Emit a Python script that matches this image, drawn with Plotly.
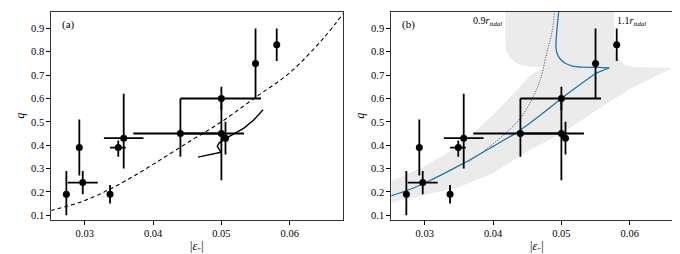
import plotly.graph_objects as go

# ---- data ----
eps = [0.0273, 0.0292, 0.0297, 0.0337, 0.0349, 0.0357, 0.0440, 0.0500, 0.0500, 0.0506, 0.0550, 0.0581]
q = [0.19, 0.39, 0.24, 0.19, 0.39, 0.43, 0.45, 0.45, 0.60, 0.43, 0.75, 0.83]
q_lo = [0.10, 0.27, 0.19, 0.15, 0.35, 0.30, 0.35, 0.25, 0.55, 0.36, 0.60, 0.76]
q_hi = [0.29, 0.51, 0.29, 0.23, 0.42, 0.62, 0.60, 0.60, 0.65, 0.50, 0.90, 0.90]
eps_lo = [0.0273, 0.0292, 0.0275, 0.0337, 0.0337, 0.0328, 0.0371, 0.0440, 0.0440, 0.0506, 0.0550, 0.0581]
eps_hi = [0.0273, 0.0292, 0.0319, 0.0337, 0.0360, 0.0386, 0.0500, 0.0533, 0.0558, 0.0506, 0.0550, 0.0581]

# dashed fit (panel a)
fit_x = [0.025, 0.030, 0.035, 0.040, 0.045, 0.050, 0.055, 0.060, 0.065, 0.068]
fit_q = [0.12, 0.163, 0.232, 0.318, 0.41, 0.50, 0.605, 0.71, 0.86, 0.97]

# solid track (panel a)
trk_x = [0.04657, 0.04994, 0.0494, 0.04966, 0.0506, 0.0533, 0.05477, 0.0561]
trk_q = [0.349, 0.370, 0.395, 0.409, 0.428, 0.473, 0.509, 0.552]

# blue model curve (panel b): lower branch and returning upper branch
blue_lo_x = [0.025, 0.0273, 0.030, 0.0357, 0.040, 0.0435, 0.047, 0.050, 0.053, 0.0551, 0.0562, 0.0570]
blue_lo_q = [0.183, 0.205, 0.238, 0.323, 0.395, 0.455, 0.53, 0.60, 0.665, 0.708, 0.722, 0.731]
blue_up_x = [0.0570, 0.0555, 0.0530, 0.0515, 0.0505, 0.0498, 0.0494, 0.0492, 0.0493, 0.0496]
blue_up_q = [0.731, 0.733, 0.734, 0.740, 0.752, 0.770, 0.790, 0.820, 0.880, 0.970]

# dotted curve (panel b)
dot_x = [0.0365, 0.0379, 0.041, 0.044, 0.046, 0.047, 0.0479, 0.0486, 0.0490]
dot_q = [0.330, 0.359, 0.43, 0.516, 0.615, 0.69, 0.80, 0.88, 0.97]

# grey envelope (panel b)
band_x = [0.025, 0.030, 0.034, 0.037, 0.040, 0.043, 0.0455, 0.0475,
          0.0448, 0.0435, 0.0426, 0.0420, 0.0418, 0.0418,
          0.0577, 0.0577, 0.0579, 0.0584, 0.0592, 0.0605, 0.0662,
          0.0600, 0.0555, 0.050, 0.045, 0.040, 0.035, 0.030, 0.025]
band_q = [0.245, 0.31, 0.38, 0.45, 0.53, 0.62, 0.70, 0.733,
          0.738, 0.750, 0.770, 0.800, 0.830, 0.98,
          0.98, 0.830, 0.800, 0.770, 0.745, 0.735, 0.730,
          0.64, 0.556, 0.45, 0.374, 0.28, 0.22, 0.185, 0.153]

FONT = "Liberation Serif"
fig = go.Figure()

def points(xa, ya):
    return go.Scatter(
        x=eps, y=q, mode="markers", xaxis=xa, yaxis=ya,
        marker=dict(color="black", size=7),
        error_y=dict(type="data", symmetric=False,
                     array=[h - v for h, v in zip(q_hi, q)],
                     arrayminus=[v - l for l, v in zip(q_lo, q)],
                     color="black", thickness=1.8, width=0),
        error_x=dict(type="data", symmetric=False,
                     array=[h - v for h, v in zip(eps_hi, eps)],
                     arrayminus=[v - l for l, v in zip(eps_lo, eps)],
                     color="black", thickness=1.8, width=0),
        showlegend=False, hoverinfo="skip")

# panel a
fig.add_trace(go.Scatter(x=fit_x, y=fit_q, mode="lines", line=dict(color="black", width=1.1, dash="4px,3px", shape="spline"),
                         xaxis="x", yaxis="y", showlegend=False))
fig.add_trace(go.Scatter(x=trk_x, y=trk_q, mode="lines", line=dict(color="black", width=1.4),
                         xaxis="x", yaxis="y", showlegend=False))
fig.add_trace(points("x", "y"))

# panel b
fig.add_trace(go.Scatter(x=band_x, y=band_q, mode="lines", fill="toself", fillcolor="#ebebeb",
                         line=dict(width=0, color="#ebebeb"),
                         xaxis="x2", yaxis="y2", showlegend=False, hoverinfo="skip"))
fig.add_trace(go.Scatter(x=dot_x, y=dot_q, mode="lines", line=dict(color="#444444", width=1, dash="1px,1.5px", shape="spline"),
                         xaxis="x2", yaxis="y2", showlegend=False))
fig.add_trace(go.Scatter(x=blue_lo_x, y=blue_lo_q, mode="lines", line=dict(color="#1f77b4", width=1.3, shape="spline", smoothing=0.6),
                         xaxis="x2", yaxis="y2", showlegend=False))
fig.add_trace(go.Scatter(x=blue_up_x, y=blue_up_q, mode="lines", line=dict(color="#1f77b4", width=1.3, shape="spline", smoothing=0.5),
                         xaxis="x2", yaxis="y2", showlegend=False))
fig.add_trace(points("x2", "y2"))

ax = dict(range=[0.0251, 0.0678], tickvals=[0.03, 0.04, 0.05, 0.06], ticktext=["0.03", "0.04", "0.05", "0.06"],
          ticks="outside", ticklen=4, tickcolor="black", showline=True, linecolor="#333333", linewidth=1,
          mirror=True, showgrid=False, zeroline=False,
          tickfont=dict(family=FONT, size=10.5, color="black"))
ay = dict(range=[0.081, 0.97], tickvals=[0.1, 0.2, 0.3, 0.4, 0.5, 0.6, 0.7, 0.8, 0.9],
          ticktext=["0.1", "0.2", "0.3", "0.4", "0.5", "0.6", "0.7", "0.8", "0.9"],
          ticks="outside", ticklen=4, tickcolor="black", showline=True, linecolor="#333333", linewidth=1,
          mirror=True, showgrid=False, zeroline=False,
          tickfont=dict(family=FONT, size=10.5, color="black"))

tfont = dict(family=FONT, size=12, color="black")
sfont = dict(family=FONT, size=10, color="black")
xtitle = "|<i>ε</i>₋|"
fig.update_layout(
    width=680, height=254, margin=dict(l=0, r=0, t=0, b=0),
    plot_bgcolor="white", paper_bgcolor="white",
    xaxis=dict(ax, domain=[0.0637, 0.4926], anchor="y"),
    yaxis=dict(ay, domain=[0.1665, 0.984], anchor="x"),
    xaxis2=dict(ax, domain=[0.5637, 0.9926], anchor="y2"),
    yaxis2=dict(ay, domain=[0.1665, 0.984], anchor="x2"),
    annotations=[
        dict(text=xtitle, x=0.278, y=0.062, xref="paper", yref="paper", showarrow=False,
             xanchor="center", yanchor="middle", font=tfont),
        dict(text=xtitle, x=0.778, y=0.062, xref="paper", yref="paper", showarrow=False,
             xanchor="center", yanchor="middle", font=tfont),
        dict(text="<i>q</i>", x=0.0172, y=0.575, xref="paper", yref="paper", showarrow=False,
             xanchor="center", yanchor="middle", textangle=-90, font=tfont),
        dict(text="<i>q</i>", x=0.5172, y=0.575, xref="paper", yref="paper", showarrow=False,
             xanchor="center", yanchor="middle", textangle=-90, font=tfont),
        dict(text="(a)", x=0.0264, y=0.955, xref="x", yref="y", showarrow=False, xanchor="left", yanchor="top",
             font=dict(family=FONT, size=11, color="black")),
        dict(text="(b)", x=0.0264, y=0.955, xref="x2", yref="y2", showarrow=False, xanchor="left", yanchor="top",
             font=dict(family=FONT, size=11, color="black")),
        dict(text="0.9<i>r</i><sub><i>tidal</i></sub>", x=0.0368, y=0.965, xref="x2", yref="y2", showarrow=False,
             xanchor="left", yanchor="top", font=sfont),
        dict(text="1.1<i>r</i><sub><i>tidal</i></sub>", x=0.0579, y=0.965, xref="x2", yref="y2", showarrow=False,
             xanchor="left", yanchor="top", font=sfont),
    ],
)

fig.write_html("out.html")
